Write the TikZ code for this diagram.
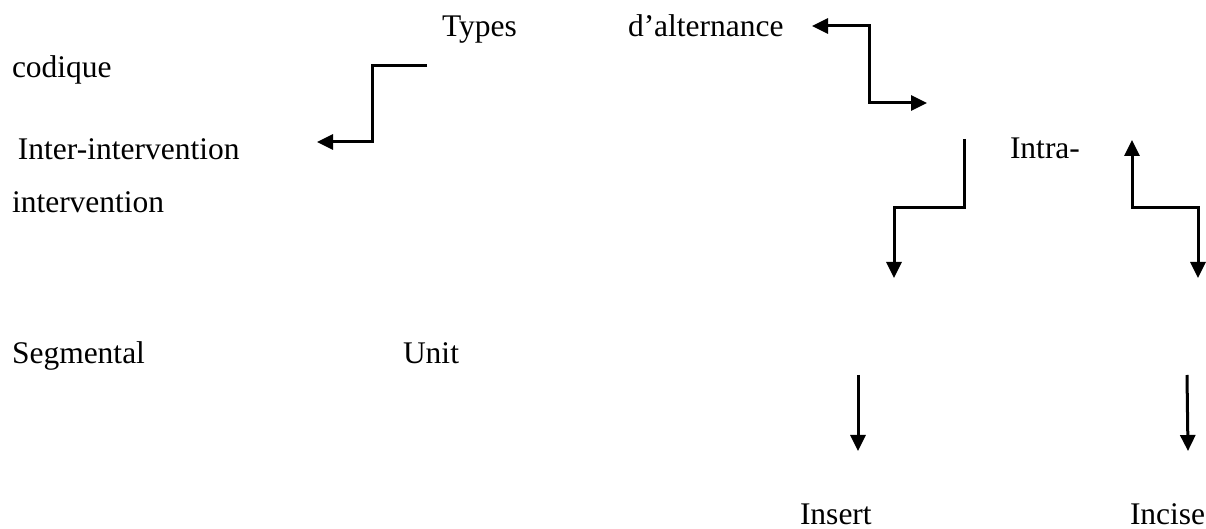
\documentclass[tikz,border=0pt]{standalone}
\usepackage{fontspec}
\setmainfont{Liberation Serif}
\usetikzlibrary{arrows.meta}
\begin{document}
\begin{tikzpicture}[x=0.5pt,y=-0.5pt,
  lbl/.style={anchor=base west,inner sep=0pt,outer sep=0pt,font=\fontsize{15.75}{18}\selectfont},
  conn/.style={line width=1.5pt,line join=miter},
  tip/.style={-{Triangle[length=8pt,width=7.5pt]}},
  tips/.style={{Triangle[length=8pt,width=7.5pt]}-{Triangle[length=8pt,width=7.5pt]}}]
\useasboundingbox (0,0) rectangle (1206,529);
% labels
\node[lbl] (types) at (442,37) {Types};
\node[lbl] (alt) at (628,37) {d’alternance};
\node[lbl] (codique) at (12,78) {codique};
\node[lbl] (inter) at (18,160) {Inter-intervention};
\node[lbl] (interv) at (12,213) {intervention};
\node[lbl] (intra) at (1010,159) {Intra-};
\node[lbl] (segm) at (12,364) {Segmental};
\node[lbl] (unit) at (403,364) {Unit};
\node[lbl] (insert) at (800,524) {Insert};
\node[lbl] (incise) at (1130,524) {Incise};
% connector end points
\coordinate (a1) at (427,66);
\coordinate (a2) at (317,142);
\coordinate (b1) at (812,26);
\coordinate (b2) at (927,103);
\coordinate (c1) at (964,139);
\coordinate (c2) at (894,278);
\coordinate (d1) at (1132,140);
\coordinate (d2) at (1198,278);
\coordinate (e1) at (858,375);
\coordinate (e2) at (858,451);
\coordinate (f1) at (1187,375);
\coordinate (f2) at (1188,451);
% connectors
\draw[conn,tip] (a1) -- (372,66) -- (372,142) -- (a2);
\draw[conn,tips] (b1) -- (869,26) -- (869,103) -- (b2);
\draw[conn,tip] (c1) -- (964,208) -- (894,208) -- (c2);
\draw[conn,tips] (d1) -- (1132,208) -- (1198,208) -- (d2);
\draw[conn,tip] (e1) -- (e2);
\draw[conn,tip] (f1) -- (f2);
\end{tikzpicture}
\end{document}
